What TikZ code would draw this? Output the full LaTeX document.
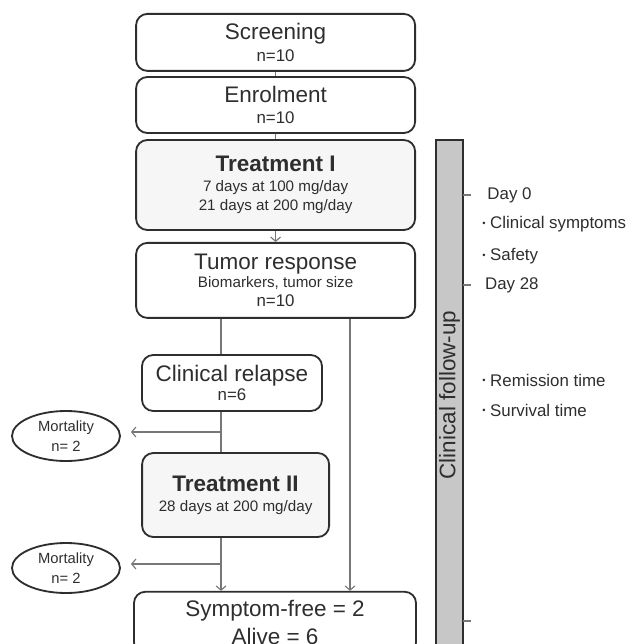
\documentclass[tikz,border=0pt]{standalone}
\usepackage{fontspec}
\setmainfont{Liberation Sans}
\usepackage{xcolor}
\usetikzlibrary{arrows.meta, positioning, shapes.geometric}

\definecolor{inkgray}{HTML}{2E2E2E}
\definecolor{linegray}{HTML}{777777}
\newcommand{\fsbig}{\fontsize{16}{19}\selectfont}
\newcommand{\fsmid}{\fontsize{12}{14}\selectfont}
\newcommand{\fssmall}{\fontsize{10.8}{13.5}\selectfont}
\newcommand{\bul}{\raisebox{0.25ex}{\scalebox{0.55}{\textbullet}}\ }

\begin{document}
\begin{tikzpicture}[
    stage/.style  = {draw=inkgray, line width=1.3pt, rectangle, rounded corners=8pt,
                     align=center, text=inkgray, inner sep=2pt},
    treat/.style  = {stage, fill=gray!7},
    death/.style  = {draw=inkgray, line width=1.3pt, ellipse, align=center,
                     text=inkgray, minimum width=2.7cm, minimum height=1.25cm,
                     inner sep=0pt, font=\fontsize{10.5}{12}\selectfont},
    flow/.style   = {draw=linegray, line width=0.8pt},
    arr/.style    = {flow, -{Straight Barb[length=3pt, width=7pt]}},
    note/.style   = {anchor=west, text=inkgray, font=\fsmid, inner sep=0pt},
]
    \useasboundingbox (0,0) rectangle (15.9,-16.1);

    % ── Parcours principal ──
    \node[stage, minimum width=6.975cm, minimum height=1.425cm] (screen) at (6.89, -1.06)
        {\fsbig Screening\\[3.3pt]{\fsmid n=10}};
    \node[stage, minimum width=6.975cm, minimum height=1.4cm] (enrol) at (6.89, -2.625)
        {\fsbig Enrolment\\[3.3pt]{\fsmid n=10}};
    \node[treat, minimum width=6.975cm, minimum height=2.25cm] (treatA) at (6.89, -4.625)
        {\fsbig\bfseries Treatment I\\[2pt]{\fssmall 7 days at 100 mg/day}\\[1.4pt]{\fssmall 21 days at 200 mg/day}};
    \node[stage, minimum width=6.975cm, minimum height=1.875cm] (tumor) at (6.89, -7.01)
        {\fsbig Tumor response\\[0.8pt]{\fssmall Biomarkers, tumor size}\\[2.1pt]{\fsmid n=10}};

    % ── Rechute et second traitement ──
    \node[stage, minimum width=4.5cm, minimum height=1.4cm] (relapse) at (5.8, -9.575)
        {\fsbig Clinical relapse\\[1.8pt]{\fsmid n=6}};
    \node[treat, minimum width=4.675cm, minimum height=2.1cm] (treatB) at (5.89, -12.375)
        {\fsbig\bfseries Treatment II\\[2.4pt]{\fssmall 28 days at 200 mg/day}};
    \node[stage, minimum width=7.05cm, minimum height=1.55cm] (outcome) at (6.875, -15.57)
        {\fsbig Symptom-free = 2\\[4pt]\fsbig Alive = 6};

    % ── Décès ──
    \node[death] (mortA) at (1.65, -10.9)  {Mortality\\[2pt]n= 2};
    \node[death] (mortB) at (1.65, -14.2)  {Mortality\\[2pt]n= 2};

    % ── Suivi clinique ──
    \node[draw=inkgray, line width=1.3pt, fill=black!22, rotate=90,
          minimum width=12.75cm, minimum height=0.675cm, inner sep=0pt,
          text=inkgray, font=\fsbig] (follow) at (11.24, -9.875) {Clinical follow-up};
    \coordinate (tick0)  at (11.575, -4.875);
    \coordinate (tick28) at (11.575, -7.125);
    \coordinate (tickend) at (11.575, -15.525);
    \foreach \t in {tick0, tick28, tickend}
        \draw[flow] (\t) -- ++(0.2,0);

    \node[note] (day0)   at (12.18, -4.875) {Day 0};
    \node[note] (symp)   at (12.05, -5.6)   {\bul Clinical symptoms};
    \node[note] (safe)   at (12.05, -6.4)   {\bul Safety};
    \node[note] (day28)  at (12.12, -7.125) {Day 28};
    \node[note] (remis)  at (12.05, -9.5)   {\bul Remission time};
    \node[note] (surv)   at (12.05, -10.25) {\bul Survival time};

    % ── Liaisons ──
    \draw[flow] (screen) -- (enrol);
    \draw[flow] (enrol) -- (treatA);
    \draw[arr] (treatA) -- (tumor);
    \draw[flow] (tumor.south -| relapse.center) ++(-0.275,0) coordinate (splitA) -- (splitA |- relapse.north);
    \draw[flow] (relapse.south -| splitA) -- (splitA |- treatB.north);
    \draw[arr, shorten >=0.25cm] (splitA |- 0,-10.8) -- (mortA.east |- 0,-10.8);
    \draw[arr] (treatB.south -| splitA) -- (splitA |- outcome.north);
    \draw[arr, shorten >=0.25cm] (splitA |- 0,-14.1) -- (mortB.east |- 0,-14.1);
    \draw[arr] (8.75,0 |- tumor.south) -- (8.75,0 |- outcome.north);
\end{tikzpicture}
\end{document}
